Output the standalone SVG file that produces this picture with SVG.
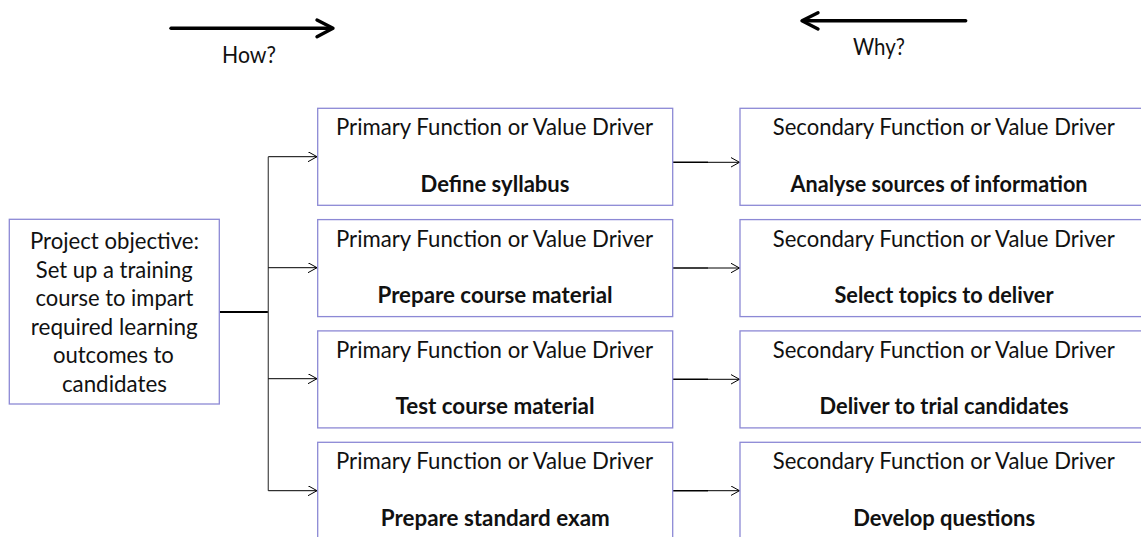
<svg xmlns="http://www.w3.org/2000/svg" width="1141" height="537" viewBox="0 0 1141 537">
<style>
.box{fill:#fff;stroke:#8c89d5;stroke-width:1.3}
.t{font-family:Lato,"Open Sans","Liberation Sans",sans-serif;font-size:23px;fill:#111;text-anchor:middle}
.b{font-weight:bold}
.c{fill:none;stroke:#000;stroke-width:1}
.big{fill:none;stroke:#000;stroke-width:3.4;stroke-linecap:round;stroke-linejoin:round}
</style>
<defs>
<marker id="ah" markerUnits="userSpaceOnUse" markerWidth="12" markerHeight="12" refX="9" refY="5" orient="auto">
<path d="M0,0 L9,5 L0,10" fill="none" stroke="#000" stroke-width="1"/>
</marker>
</defs>
<g id="legend">
<path class="big" d="M171,28.3 H331"/>
<path class="big" d="M317,20 L333,28.3 L317,36.7"/>
<text class="t" x="249" y="63.3" textLength="54" lengthAdjust="spacingAndGlyphs">How?</text>
<path class="big" d="M965.7,20.7 H804"/>
<path class="big" d="M818,12.7 L802,20.7 L818,29"/>
<text class="t" x="879" y="55" textLength="52" lengthAdjust="spacingAndGlyphs">Why?</text>
</g>
<g id="connectors">
<path d="M219.3,312 H268.3" fill="none" stroke="#000" stroke-width="2"/>
<path d="M268.3,156.7 V490.7" fill="none" stroke="#555" stroke-width="1.3"/>
<path class="c" d="M268.3,156.7 H317" marker-end="url(#ah)"/>
<path class="c" d="M268.3,267.7 H317" marker-end="url(#ah)"/>
<path class="c" d="M268.3,378.7 H317" marker-end="url(#ah)"/>
<path class="c" d="M268.3,490.7 H317" marker-end="url(#ah)"/>
<path d="M673,162.3 H708" stroke="#000" stroke-width="1.6"/>
<path class="c" d="M708,162.3 H739.5" marker-end="url(#ah)"/>
<path d="M673,268 H708" stroke="#000" stroke-width="1.6"/>
<path class="c" d="M708,268 H739.5" marker-end="url(#ah)"/>
<path d="M673,379.3 H708" stroke="#000" stroke-width="1.6"/>
<path class="c" d="M708,379.3 H739.5" marker-end="url(#ah)"/>
<path d="M673,490.7 H708" stroke="#000" stroke-width="1.6"/>
<path class="c" d="M708,490.7 H739.5" marker-end="url(#ah)"/>
</g>
<g id="objective">
<rect class="box" x="9.3" y="219.3" width="210" height="184.7"/>
<text class="t" x="114.5" y="249.3" textLength="169" lengthAdjust="spacingAndGlyphs">Project objective:</text>
<text class="t" x="114.3" y="277.8" textLength="157" lengthAdjust="spacingAndGlyphs">Set up a training</text>
<text class="t" x="114.5" y="306.3" textLength="158" lengthAdjust="spacingAndGlyphs">course to impart</text>
<text class="t" x="114.3" y="334.8" textLength="167" lengthAdjust="spacingAndGlyphs">required learning</text>
<text class="t" x="113.4" y="363.3" textLength="121" lengthAdjust="spacingAndGlyphs">outcomes to</text>
<text class="t" x="114.4" y="391.8" textLength="105" lengthAdjust="spacingAndGlyphs">candidates</text>
</g>
<g id="primary1">
<rect class="box" x="317.7" y="108.3" width="355" height="97"/>
<text class="t" x="494.5" y="135.3" textLength="317" lengthAdjust="spacingAndGlyphs">Primary Function or Value Driver</text>
<text class="t b" x="495" y="191.8" textLength="149" lengthAdjust="spacingAndGlyphs">Define syllabus</text>
</g>
<g id="primary2">
<rect class="box" x="317.7" y="219.6" width="355" height="97"/>
<text class="t" x="494.5" y="246.6" textLength="317" lengthAdjust="spacingAndGlyphs">Primary Function or Value Driver</text>
<text class="t b" x="495" y="303.1" textLength="235" lengthAdjust="spacingAndGlyphs">Prepare course material</text>
</g>
<g id="primary3">
<rect class="box" x="317.7" y="330.9" width="355" height="97"/>
<text class="t" x="494.5" y="357.9" textLength="317" lengthAdjust="spacingAndGlyphs">Primary Function or Value Driver</text>
<text class="t b" x="495" y="414.4" textLength="199" lengthAdjust="spacingAndGlyphs">Test course material</text>
</g>
<g id="primary4">
<rect class="box" x="317.7" y="442.3" width="355" height="97"/>
<text class="t" x="494.5" y="469.3" textLength="317" lengthAdjust="spacingAndGlyphs">Primary Function or Value Driver</text>
<text class="t b" x="495.3" y="525.8" textLength="229" lengthAdjust="spacingAndGlyphs">Prepare standard exam</text>
</g>
<g id="secondary1">
<rect class="box" x="740" y="108.3" width="420" height="97"/>
<text class="t" x="943.8" y="135.3" textLength="342" lengthAdjust="spacingAndGlyphs">Secondary Function or Value Driver</text>
<text class="t b" x="939" y="191.8" textLength="297" lengthAdjust="spacingAndGlyphs">Analyse sources of information</text>
</g>
<g id="secondary2">
<rect class="box" x="740" y="219.6" width="420" height="97"/>
<text class="t" x="943.8" y="246.6" textLength="342" lengthAdjust="spacingAndGlyphs">Secondary Function or Value Driver</text>
<text class="t b" x="944" y="303.1" textLength="219" lengthAdjust="spacingAndGlyphs">Select topics to deliver</text>
</g>
<g id="secondary3">
<rect class="box" x="740" y="330.9" width="420" height="97"/>
<text class="t" x="943.8" y="357.9" textLength="342" lengthAdjust="spacingAndGlyphs">Secondary Function or Value Driver</text>
<text class="t b" x="944" y="414.4" textLength="249" lengthAdjust="spacingAndGlyphs">Deliver to trial candidates</text>
</g>
<g id="secondary4">
<rect class="box" x="740" y="442.3" width="420" height="97"/>
<text class="t" x="943.8" y="469.3" textLength="342" lengthAdjust="spacingAndGlyphs">Secondary Function or Value Driver</text>
<text class="t b" x="944.2" y="525.8" textLength="182" lengthAdjust="spacingAndGlyphs">Develop questions</text>
</g>
</svg>
